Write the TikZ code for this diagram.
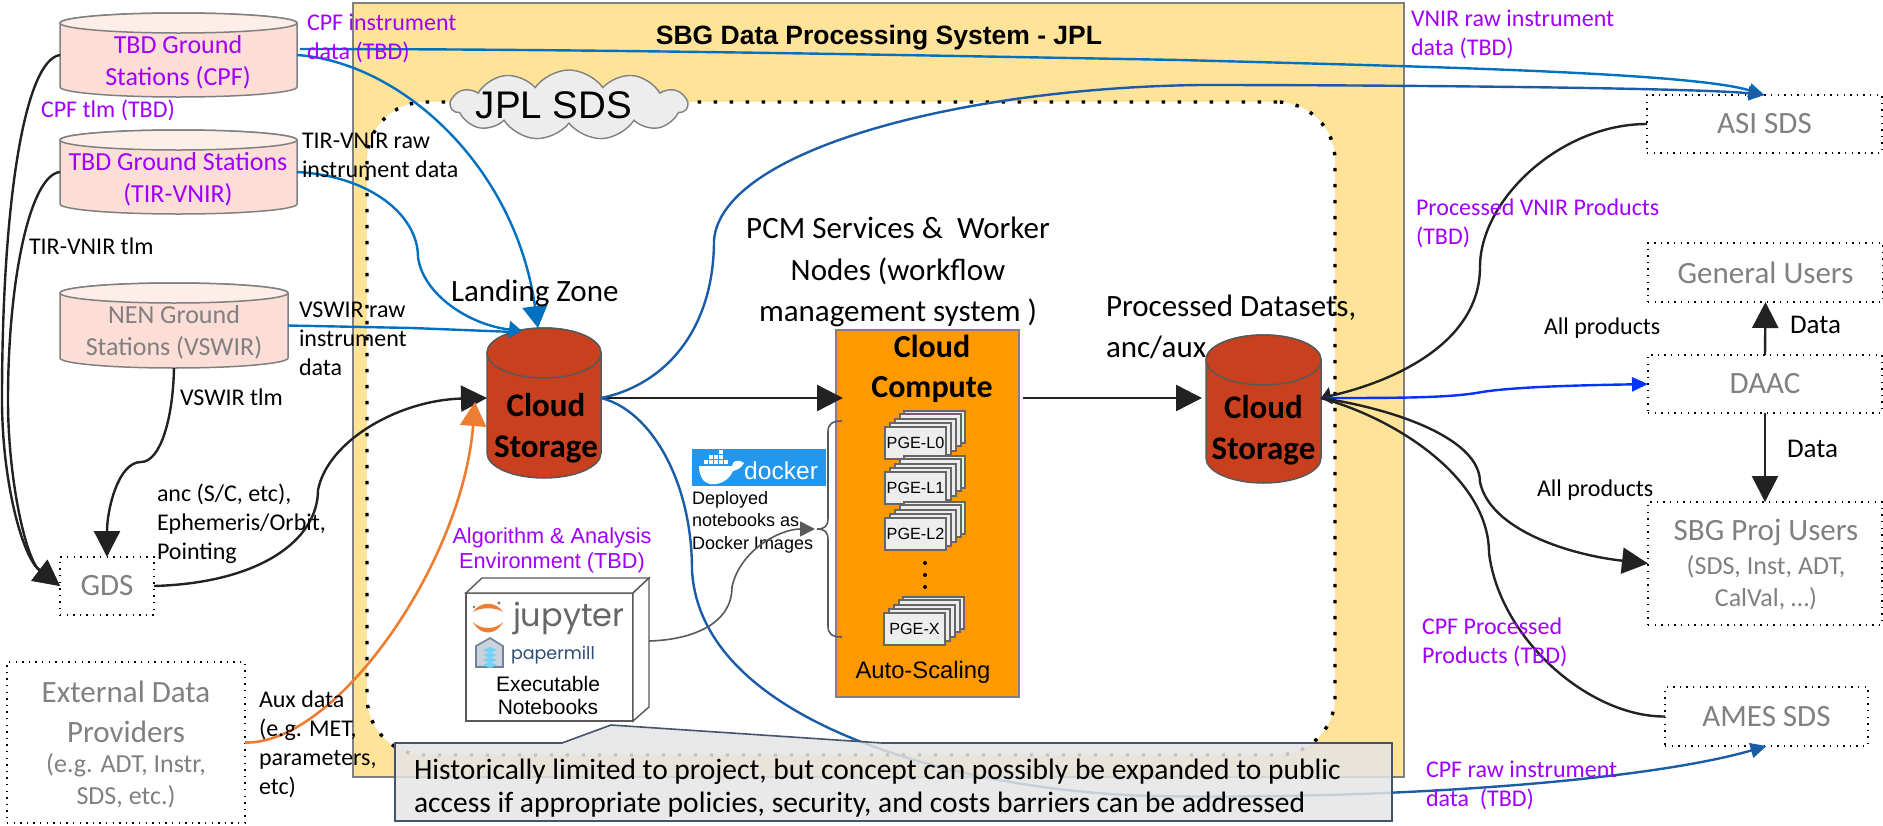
\documentclass[tikz,border=0pt]{standalone}
\usepackage{fontspec}
\setmainfont{Carlito}
\newfontfamily\arialfont{Liberation Sans}
\newfontfamily\logofont{Poppins}
\usetikzlibrary{arrows.meta,shapes.symbols}
\definecolor{labelpurple}{HTML}{A100FF}
\definecolor{boxgray}{HTML}{808080}
\definecolor{sysyellow}{HTML}{FFE399}
\definecolor{groundpink}{HTML}{FCDED6}
\definecolor{grounddisk}{HTML}{FDEEE9}
\definecolor{storered}{HTML}{C9401F}
\definecolor{computeorange}{HTML}{FF9900}
\definecolor{linkblue}{HTML}{0070C0}
\definecolor{linkdark}{HTML}{1B5CA8}
\definecolor{linkbright}{HTML}{0433FF}
\definecolor{linkorange}{HTML}{ED7D31}
\definecolor{linkblack}{HTML}{222222}
\definecolor{calloutline}{HTML}{44546A}
\definecolor{dockerblue}{HTML}{2396ED}
\definecolor{milldark}{HTML}{2F4C74}
% drum behind a node: name, x radius, y radius, body, top, line
\newcommand{\drumshape}[6]{%
	\draw[draw=#6,fill=#4,line width=1.5pt] ([yshift=-#3pt]#1.north west) -- ([yshift=#3pt]#1.south west) arc[start angle=180,end angle=360,x radius=#2pt,y radius=#3pt] -- ([yshift=-#3pt]#1.north east) arc[start angle=0,end angle=180,x radius=#2pt,y radius=#3pt] -- cycle;
	\draw[draw=#6,fill=#5,line width=1.5pt] ([yshift=-#3pt]#1.north west) arc[start angle=180,end angle=540,x radius=#2pt,y radius=#3pt];
}
\tikzset{
	txt/.style={font=\fontsize{#1}{#1}\selectfont,inner sep=0pt,outer sep=0pt,anchor=west,align=left},
	txt/.default=24,
	purpletxt/.style={txt=#1,text=labelpurple},
	purpletxt/.default=24,
	drumbox/.style={inner sep=0pt,outer sep=0pt},
	groundtxt/.style={inner sep=0pt,align=center,font=\fontsize{26}{32}\selectfont},
	storetxtstyle/.style={inner sep=0pt,align=center,font=\bfseries\fontsize{33}{41}\selectfont},
	extbox/.style={draw=black,line width=1.2pt,dash pattern=on 1.4pt off 5.2pt,text=boxgray,align=center,inner sep=0pt,outer sep=0pt,anchor=north west,font=\fontsize{31}{32}\selectfont},
	pgebox/.style={draw=black!60,fill=black!7,line width=1.8pt,inner sep=0pt,outer sep=0pt,minimum width=61pt,minimum height=32pt,anchor=north west,font=\arialfont\fontsize{16.2}{16}\selectfont},
	link/.style={line width=2.4pt,linkblack,-{Triangle[length=26pt,width=26pt]}},
	thinlink/.style={line width=2.4pt,linkblack},
	bluelink/.style={line width=2.4pt,linkblue},
	darklink/.style={line width=2.4pt,linkdark},
}
\begin{document}
\begin{tikzpicture}[x=1pt,y=-1pt]
	\useasboundingbox (0,0) rectangle (1883,825);
	% system and SDS frames
	\node (sys) [draw=boxgray,fill=sysyellow,line width=1.4pt,inner sep=0pt,outer sep=0pt,minimum width=1051pt,minimum height=774pt,anchor=north west] at (353,3) {};
	\node (systitle) [inner sep=0pt,font=\arialfont\bfseries\fontsize{26.5}{27}\selectfont] at (879,38) {SBG Data Processing System - JPL};
	\node (sds) [draw=black,fill=white,line width=3.4pt,dash pattern=on 3.4pt off 12.6pt,rounded corners=58pt,inner sep=0pt,outer sep=0pt,minimum width=968pt,minimum height=653pt,anchor=north west] at (367,102) {};
	\node (sdscloud) [shape=cloud,cloud puffs=11,cloud puff arc=110,aspect=3.4,draw=boxgray,fill=black!7,line width=1.4pt,inner sep=0pt,minimum width=236pt,minimum height=70pt] at (569,105) {};
	\node (sdstxt) [inner sep=0pt,font=\arialfont\fontsize{38.5}{39}\selectfont] at (554,105) {JPL SDS};

	% ground stations
	\node (cpf) [drumbox,minimum width=237pt,minimum height=84pt] at (178.5,55) {};
	\drumshape{cpf}{118.5}{10}{groundpink}{grounddisk}{boxgray}
	\node (cpftxt) [groundtxt,text=labelpurple] at (178,62.5) {TBD Ground\\Stations (CPF)};
	\node (tir) [drumbox,minimum width=237pt,minimum height=84pt] at (178.5,172) {};
	\drumshape{tir}{118.5}{10}{groundpink}{grounddisk}{boxgray}
	\node (tirtxt) [groundtxt,text=labelpurple] at (178,179.5) {TBD Ground Stations\\(TIR-VNIR)};
	\node (nen) [drumbox,minimum width=228pt,minimum height=85pt] at (174,325.5) {};
	\drumshape{nen}{114}{10}{groundpink}{grounddisk}{boxgray}
	\node (nentxt) [groundtxt,text=boxgray] at (174,332) {NEN Ground\\Stations (VSWIR)};

	% outside boxes
	\node (gds) [extbox,minimum width=94pt,minimum height=58pt] at (60,557) {GDS};
	\node (ext) [extbox,minimum width=238pt,minimum height=161pt] at (7,662) {};
	\node (exttxt) [groundtxt,text=boxgray,font=\fontsize{31}{40}\selectfont] at (126,712) {External Data\\Providers};
	\node (extsub) [groundtxt,text=boxgray] at (126,781) {(e.g. ADT, Instr,\\SDS, etc.)};
	\node (asi) [extbox,minimum width=235pt,minimum height=58pt] at (1647,95) {ASI SDS};
	\node (users) [extbox,minimum width=235pt,minimum height=59pt] at (1648,243) {General Users};
	\node (daac) [extbox,minimum width=234pt,minimum height=58pt] at (1648,355) {DAAC};
	\node (proj) [extbox,minimum width=234pt,minimum height=123pt] at (1648,502) {};
	\node (projtxt) [groundtxt,text=boxgray,font=\fontsize{31}{32}\selectfont] at (1766,532) {SBG Proj Users};
	\node (projsub) [groundtxt,text=boxgray] at (1766,583) {(SDS, Inst, ADT,\\CalVal, …)};
	\node (ames) [extbox,minimum width=203pt,minimum height=59pt] at (1665,687) {AMES SDS};

	% data stores
	\node (store) [drumbox,minimum width=114pt,minimum height=150pt] at (544,403) {};
	\drumshape{store}{57}{25}{storered}{storered}{black!65}
	\node (storetxt) [storetxtstyle] at (546,428) {Cloud\\Storage};
	\node (done) [drumbox,minimum width=115pt,minimum height=148pt] at (1263.5,409) {};
	\drumshape{done}{57.5}{25}{storered}{storered}{black!65}
	\node (donetxt) [storetxtstyle] at (1263.5,430) {Cloud\\Storage};

	% compute block
	\node (compute) [draw=boxgray,fill=computeorange,line width=1.4pt,inner sep=0pt,outer sep=0pt,minimum width=183pt,minimum height=367pt,anchor=north west] at (836,330) {};
	\node (computetxt) [storetxtstyle,font=\bfseries\fontsize{32}{40}\selectfont] at (932,369) {Cloud\\Compute};
	\foreach \Name/\Left/\Top/\Label in {pgel0/885/427/PGE-L0,pgel1/885/472/PGE-L1,pgel2/885/518/PGE-L2,pgex/884/613/PGE-X}{
		\foreach \Off/\Rise in {19/16,15/13,10/8,5/4}{
			\draw[draw=black!60,fill=black!7,line width=1.2pt] (\Left+\Off,\Top-\Rise) rectangle +(61,32);
		}
		\node (\Name) [pgebox] at (\Left,\Top) {\Label};
	}
	\foreach \Name/\Y in {dota/563,dotb/575,dotc/587}{\node (\Name) [circle,fill=black,inner sep=0pt,minimum size=4pt] at (925,\Y) {};}
	\node (autotxt) [inner sep=0pt,font=\arialfont\fontsize{23.8}{24}\selectfont] at (923,672) {Auto-Scaling};
	\draw[draw=black!65,line width=1.6pt] (842,421) .. controls (832,421) and (828,424) .. (828,432) -- (828,518) .. controls (828,526) and (825,529) .. (817,529) .. controls (825,529) and (828,532) .. (828,540) -- (828,626) .. controls (828,634) and (832,637) .. (842,637);

	% connectors into the landing zone
	\draw[bluelink,-{Triangle[length=22pt,width=25pt]}] (cpf.east) .. controls (400,62) and (515,165) .. (538,328);
	\draw[bluelink] (tir.east) .. controls (370,176) and (418,215) .. (418,257);
	\draw[bluelink,-{Triangle[length=13pt,width=17pt]}] (418,257) .. controls (423,295) and (470,325) .. (522,331);
	\draw[bluelink] (nen.east) -- (412,328) -- (514,332);
	\draw[link] (cpf.west) .. controls (25,60) and (2,200) .. (2,400) .. controls (2,480) and (22,557) .. (gds.west);
	\draw[link] (tir.west) .. controls (30,175) and (8,280) .. (8,400) .. controls (8,480) and (26,560) .. (gds.west);
	\draw[thinlink] (nen.south) .. controls (173,420) and (160,462) .. (141,462);
	\draw[link] (141,462) .. controls (118,462) and (107,510) .. (gds.north);
	\draw[thinlink] (gds.east) .. controls (260,583) and (318,540) .. (318,490);
	\draw[link] (318,490) .. controls (328,440) and (400,400) .. ([yshift=5pt]store.west);
	\draw[line width=2.6pt,linkorange,-{Triangle[length=24pt,width=26pt]}] (ext.east) .. controls (335,745) and (462,565) .. (475,402);

	% main flow
	\draw[link] ([yshift=5pt]store.east) -- ([yshift=115.5pt,xshift=7pt]compute.west);
	\draw[link] ([yshift=115.5pt,xshift=4pt]compute.east) -- ([yshift=11pt,xshift=-4pt]done.west);

	% connectors to the partners
	\draw[bluelink,-{Triangle[length=16pt,width=14pt]}] (300,49) .. controls (600,49) and (900,55) .. (1180,60) .. controls (1400,66) and (1690,72) .. (asi.north);
	\draw[darklink] ([yshift=5pt]store.east) .. controls (665,385) and (714,330) .. (714,240);
	\draw[darklink,-{Triangle[length=16pt,width=14pt]}] (714,240) .. controls (722,150) and (960,88) .. (1200,85) .. controls (1400,85) and (1700,88) .. (asi.north);
	\draw[darklink] ([yshift=5pt]store.east) .. controls (650,410) and (692,480) .. (692,570);
	\draw[darklink,-{Triangle[length=16pt,width=15pt]}] (692,570) .. controls (700,720) and (950,790) .. (1150,796) .. controls (1400,800) and (1650,780) .. (ames.south);
	\draw[thinlink,-{Triangle[length=10pt,width=17pt]}] (asi.west) .. controls (1560,124) and (1480,200) .. (1480,267) .. controls (1480,340) and (1400,380) .. ([yshift=11pt]done.east);
	\draw[line width=2.4pt,linkbright,-{Triangle[length=16pt,width=14pt]}] ([yshift=11pt]done.east) .. controls (1400,398) and (1450,398) .. (1482,392) .. controls (1520,386) and (1600,385) .. (daac.west);
	\draw[link] ([yshift=11pt]done.east) .. controls (1400,410) and (1480,440) .. (1480,482) .. controls (1490,530) and (1570,555) .. (proj.west);
	\draw[thinlink] ([yshift=11pt]done.east) .. controls (1400,420) and (1489,480) .. (1489,553) .. controls (1500,640) and (1590,717) .. (ames.west);
	\draw[link] (daac.north) -- (users.south);
	\draw[link] (daac.south) -- (proj.north);

	% docker logo
	\node (docker) [fill=dockerblue,inner sep=0pt,outer sep=0pt,minimum width=134pt,minimum height=37pt,anchor=north west] at (692,449) {};
	\node (dockertxt) [anchor=west,inner sep=0pt,text=white,font=\arialfont\fontsize{24.6}{24}\selectfont] at (744,471) {docker};
	\fill[white] (699,466) -- (732,466) .. controls (733,460) and (738,459) .. (744,463) .. controls (741,469) and (736,470) .. (733,471) .. controls (728,482) and (718,485) .. (710,484) .. controls (703,483) and (699,475) .. (699,466);
	\foreach \X/\Y in {704/460,709/460,714/460,719/460,724/460,709/455,714/455,719/455,719/450}{\fill[white] (\X,\Y) rectangle +(4,4);}
	\node (docknote) [txt,font=\arialfont\fontsize{18}{22.5}\selectfont] at (692,522) {Deployed\\notebooks as\\Docker Images};

	% notebook cube
	\node (book) [draw=black!65,fill=white,line width=1.4pt,inner sep=0pt,outer sep=0pt,minimum width=167pt,minimum height=128pt,anchor=north west] at (466,593) {};
	\draw[draw=black!65,fill=white,line width=1.4pt] (book.north west) -- (482,578) -- (649,578) -- (book.north east) -- cycle;
	\draw[draw=black!65,fill=white,line width=1.4pt] (book.north east) -- (649,578) -- (649,707) -- (book.south east) -- cycle;
	\draw[black!65,line width=1.6pt,-{Triangle[length=15pt,width=15pt]}] (649,641) .. controls (690,640) and (732,625) .. (732,587) .. controls (740,550) and (780,529) .. (815,529);
	\fill[linkorange] (473,612) .. controls (480,601) and (496,601) .. (503,612) .. controls (496,607) and (480,607) .. cycle;
	\fill[linkorange] (473,622) .. controls (480,636) and (496,636) .. (503,622) .. controls (496,630) and (480,630) .. cycle;
	\fill[black!55] (474,607) circle (1.3pt) (499,603) circle (1.6pt);
	\node (jupytertxt) [txt,text=black!60,font=\logofont\fontsize{32}{32}\selectfont] at (513,618) {jupyter};
	\draw[draw=milldark!70,fill=milldark!25,line width=1.6pt] (476,646) -- (490,638) -- (503,646) -- (503,667) -- (476,667) -- cycle;
	\foreach \Y in {650,655,660,665}{\fill[cyan!55] (483,\Y) -- (490,\Y-3) -- (497,\Y) -- (490,\Y+3) -- cycle;}
	\node (papertxt) [txt,text=milldark,font=\logofont\fontsize{17.5}{18}\selectfont] at (511,655) {papermill};
	\node (booktxt) [inner sep=0pt,align=center,font=\arialfont\fontsize{21}{23}\selectfont] at (548,695) {Executable\\Notebooks};
	\node (algotxt) [inner sep=0pt,align=center,text=labelpurple,font=\arialfont\fontsize{21.7}{25}\selectfont] at (552,550) {Algorithm \& Analysis\\Environment (TBD)};

	% labels
	\tikzset{lines/.style={font=\fontsize{24}{29}\selectfont}}
	\node (cpfdata) [purpletxt,lines] at (307,38.5) {CPF instrument\\data (TBD)};
	\node (cpftlm) [purpletxt] at (41,110) {CPF tlm (TBD)};
	\node (tirdata) [txt,lines] at (302,155) {TIR-VNIR raw\\instrument data};
	\node (tirtlm) [txt] at (29,246) {TIR-VNIR tlm};
	\node (vswirdata) [txt,lines] at (299,339) {VSWIR raw\\instrument\\data};
	\node (vswirtlm) [txt] at (180,397) {VSWIR tlm};
	\node (anctxt) [txt,lines] at (157,524) {anc (S/C, etc),\\Ephemeris/Orbit,\\Pointing};
	\node (auxtxt) [txt,lines] at (259,744) {Aux data\\(e.g. MET,\\parameters,\\etc)};
	\node (landtxt) [txt=31] at (451,293) {Landing Zone};
	\node (pcmtxt) [txt=31,anchor=center,align=center,font=\fontsize{31}{41.5}\selectfont] at (898,272) {PCM Services \&\ \ Worker\\Nodes (workflow\\management system )};
	\node (proctxt) [txt=31,font=\fontsize{31}{41}\selectfont] at (1106,327) {Processed Datasets,\\anc/aux};
	\node (vnirdata) [purpletxt,lines] at (1411,34) {VNIR raw instrument\\data (TBD)};
	\node (vnirprod) [purpletxt,lines] at (1416,223) {Processed VNIR Products\\(TBD)};
	\node (allone) [txt] at (1544,328) {All products};
	\node (datatop) [txt=27] at (1790,325) {Data};
	\node (databot) [txt=27] at (1787,449) {Data};
	\node (alltwo) [txt] at (1537,490) {All products};
	\node (cpfprod) [purpletxt,lines] at (1422,642.5) {CPF Processed\\Products (TBD)};
	\node (cpfraw) [purpletxt,lines] at (1426,785.5) {CPF raw instrument\\data\ \ (TBD)};

	% note over the frame
	\draw[draw=calloutline,line width=1.6pt,fill=black!10,fill opacity=.85] (395,743) -- (562,743) -- (611,725) -- (882,743) -- (1392,743) -- (1392,821) -- (395,821) -- cycle;
	\node (notetxt) [txt=29.5,font=\fontsize{29.5}{33}\selectfont] at (414,788) {Historically limited to project, but concept can possibly be expanded to public\\access if appropriate policies, security, and costs barriers can be addressed};
\end{tikzpicture}
\end{document}
